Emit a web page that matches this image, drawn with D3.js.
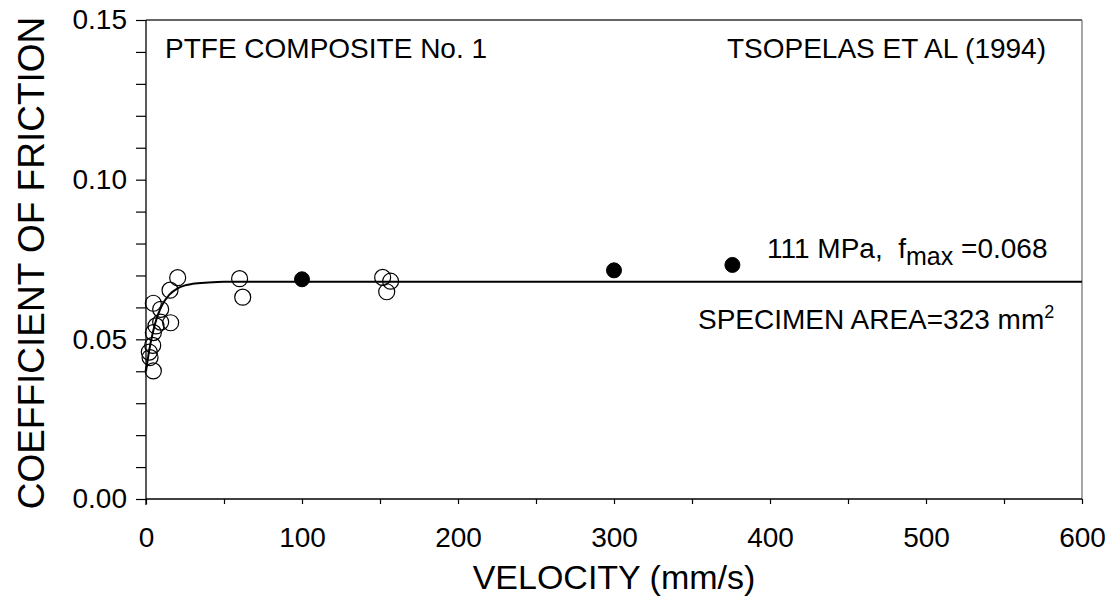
<!DOCTYPE html>
<html><head><meta charset="utf-8">
<script src="https://cdn.jsdelivr.net/npm/d3@7"></script>
<style>
body{margin:0;background:#fff}
text{font-family:Arial,"Liberation Sans",sans-serif;fill:#000}
</style>
</head><body>
<svg id="c" width="1115" height="600"></svg>
<script>
// open circles (tests)
const openVel = [20.3, 15.4, 4.7, 9.4, 15.8, 9.4, 6.4, 4.7, 4.3, 2.1, 2.6, 4.7, 60, 62, 151.7, 156.8, 154.3];
const openCof = [0.0693, 0.0654, 0.0613, 0.0594, 0.0552, 0.0554, 0.0542, 0.0521, 0.0481, 0.046, 0.0443, 0.0401, 0.0690, 0.0632, 0.0694, 0.0682, 0.0649];
// filled circles
const solidVel = [100, 300, 375.9];
const solidCof = [0.0688, 0.0716, 0.0733];
// fitted curve
const curveVel = [0, 2, 4, 6, 8, 10, 15, 20, 25, 30, 40, 50, 600];
const curveCof = [0.0400, 0.0464, 0.0513, 0.0552, 0.0581, 0.0604, 0.0640, 0.0659, 0.0669, 0.0674, 0.0678, 0.0680, 0.0680];
// ticks
const xMajor = [0, 100, 200, 300, 400, 500, 600];
const xMinor = [50, 150, 250, 350, 450, 550];
const yMajor = [0.00, 0.05, 0.10, 0.15];
const yMinor = [0.01, 0.02, 0.03, 0.04, 0.06, 0.07, 0.08, 0.09, 0.11, 0.12, 0.13, 0.14];

const svg = d3.select("#c");
const L = 146, R = 1082, T = 20, B = 499;
const x = d3.scaleLinear().domain([0, 600]).range([L, R]);
const y = d3.scaleLinear().domain([0, 0.15]).range([B, T]);

// frame
svg.append("line").attr("x1", L).attr("x2", R).attr("y1", T).attr("y2", T).attr("stroke", "#333").attr("stroke-width", 1.3);
svg.append("line").attr("x1", R).attr("x2", R).attr("y1", T).attr("y2", B).attr("stroke", "#777").attr("stroke-width", 1.3);

// axes
const yAxis = d3.axisLeft(y).tickValues(yMajor.concat(yMinor)).tickSize(10).tickPadding(9)
  .tickFormat(d => yMajor.some(m => Math.abs(m - d) < 1e-9) ? d3.format(".2f")(d) : "");
const gy = svg.append("g").attr("transform", `translate(${L},0)`).call(yAxis);
gy.select(".domain").attr("d", `M0,${B + 6}V${T}`).attr("stroke-width", 1.3);
gy.selectAll("line").attr("stroke-width", 1.2);
gy.selectAll("text").style("font-size", "28px");

const xAxis = d3.axisBottom(x).tickValues(xMajor.concat(xMinor)).tickSize(5).tickPadding(23)
  .tickFormat(d => xMajor.includes(d) ? d : "");
const gx = svg.append("g").attr("transform", `translate(0,${B})`).call(xAxis);
gx.select(".domain").attr("d", `M${L},0H${R}`).attr("stroke-width", 1.3);
gx.selectAll("line").attr("stroke-width", 1.2);
gx.selectAll("text").style("font-size", "28px");

// axis titles
svg.append("text").attr("x", x(300)).attr("y", 589).attr("text-anchor", "middle")
  .style("font-size", "34px").text("VELOCITY (mm/s)");
svg.append("text").attr("transform", `translate(44,263) rotate(-90)`).attr("text-anchor", "middle")
  .style("font-size", "37px").text("COEFFICIENT OF FRICTION");

// curve
const curveData = curveVel.map((v, i) => [v, curveCof[i]]);
svg.append("path").datum(curveData)
  .attr("d", d3.line().x(d => x(d[0])).y(d => y(d[1])).curve(d3.curveMonotoneX))
  .attr("fill", "none").attr("stroke", "#000").attr("stroke-width", 2);

// open circles
svg.append("g").selectAll("circle").data(openVel.map((v, i) => [v, openCof[i]])).join("circle")
  .attr("cx", d => x(d[0])).attr("cy", d => y(d[1])).attr("r", 8)
  .attr("fill", "none").attr("stroke", "#000").attr("stroke-width", 1.2);
// filled circles
svg.append("g").selectAll("circle").data(solidVel.map((v, i) => [v, solidCof[i]])).join("circle")
  .attr("cx", d => x(d[0])).attr("cy", d => y(d[1])).attr("r", 7.5)
  .attr("fill", "#000").attr("stroke", "#000").attr("stroke-width", 1);

// annotations
svg.append("text").attr("x", 165).attr("y", 58).style("font-size", "28px").text("PTFE COMPOSITE No. 1");
svg.append("text").attr("x", 1046).attr("y", 58).attr("text-anchor", "end").style("font-size", "28px").text("TSOPELAS ET AL (1994)");
const t1 = svg.append("text").attr("x", 767).attr("y", 258).style("font-size", "28px").style("white-space", "pre");
t1.append("tspan").text("111 MPa,\u00a0 f");
t1.append("tspan").attr("dy", 7).style("font-size", "25px").text("max");
t1.append("tspan").attr("dy", -7).text(" =0.068");
const t2 = svg.append("text").attr("x", 698).attr("y", 329).style("font-size", "28px");
t2.append("tspan").text("SPECIMEN AREA=323 mm");
t2.append("tspan").attr("dy", -11).style("font-size", "18px").text("2");
</script>
</body></html>
